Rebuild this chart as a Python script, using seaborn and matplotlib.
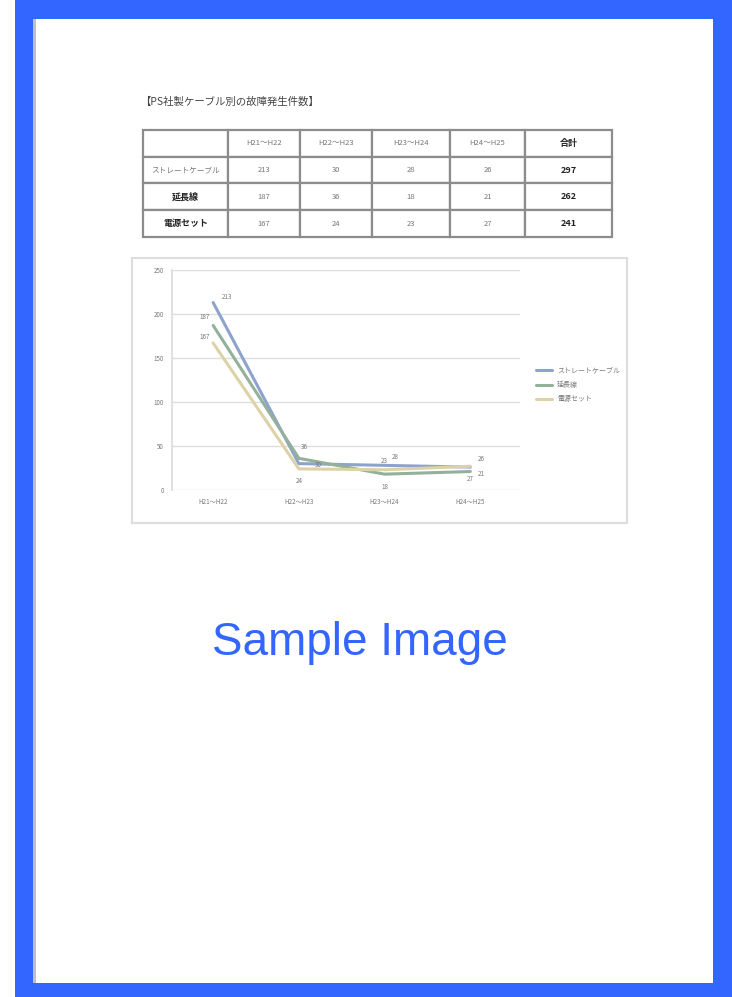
import numpy as np
import pandas as pd
import matplotlib
matplotlib.use('Agg')
import matplotlib.pyplot as plt
import seaborn as sns
from matplotlib.patches import Rectangle

# --- data (read off a very blurry scan, so partly guessed) ---
periods = ['H21～H22', 'H22～H23', 'H23～H24', 'H24～H25']
series_names = ['ストレートケーブル', '延長線', '電源セット']
straight = [213, 30, 28, 26]
extension = [187, 36, 18, 21]
power_set = [167, 24, 23, 27]
title_text = '【PS社製ケーブル別の故障発生件数】'
total_label = '合計'
y_ticks = [0, 50, 100, 150, 200, 250]
line_colors = ['#8ea3cb', '#93b09a', '#dcd2a8']

sns.set_theme(style='white')
plt.rcParams['font.family'] = ['Noto Sans CJK JP', 'DejaVu Sans']

W, H = 732, 997
fig = plt.figure(figsize=(W / 100, H / 100), dpi=100)
fig.patch.set_facecolor('white')


def px_axes(x0, y0, x1, y1):
    # axes placed with pixel corners (top-left origin)
    return fig.add_axes([x0 / W, 1 - y1 / H, (x1 - x0) / W, (y1 - y0) / H])


# --- blue frame ---
fig.patches.append(Rectangle((15 / W, 0), (732 - 15) / W, 1, transform=fig.transFigure,
                             facecolor='#3366ff', edgecolor='none', zorder=-3))
fig.patches.append(Rectangle((33 / W, 1 - 983 / H), (713 - 33) / W, (983 - 19) / H,
                             transform=fig.transFigure, facecolor='white',
                             edgecolor='none', zorder=-2))
fig.patches.append(Rectangle((33 / W, 1 - 983 / H), 3 / W, (983 - 19) / H,
                             transform=fig.transFigure, facecolor='#b9c2cf',
                             edgecolor='none', zorder=-1))

# --- title above the table ---
fig.text(140 / W, 1 - 102 / H, title_text, fontsize=7.5, color='#444444',
         ha='left', va='center')

# --- table ---
ax_t = px_axes(143, 130, 612, 237)
ax_t.axis('off')
rows = [straight, extension, power_set]
cell_text = [[''] + periods + [total_label]]
for name, vals in zip(series_names, rows):
    cell_text.append([name] + [str(v) for v in vals] + [str(sum(vals))])
col_w = [85, 72, 72, 78, 75, 87]
tbl = ax_t.table(cellText=cell_text, colWidths=[c / sum(col_w) for c in col_w],
                 cellLoc='center', bbox=[0, 0, 1, 1])
tbl.auto_set_font_size(False)
tbl.set_fontsize(5.5)
for (r, c), cell in tbl.get_celld().items():
    cell.set_edgecolor('#8c8c8c')
    cell.set_linewidth(1.6)
    txt = cell.get_text()
    txt.set_color('#777777')
    if c == 5 or (c == 0 and r in (2, 3)):
        txt.set_fontweight('bold')
        txt.set_color('#222222')
        txt.set_fontsize(6.5)

# --- chart frame ---
ax_box = px_axes(132, 258, 627, 523)
ax_box.set_xticks([])
ax_box.set_yticks([])
for sp in ax_box.spines.values():
    sp.set_color('#dddddd')
    sp.set_linewidth(1.5)
ax_box.set_zorder(0)

# --- line chart ---
ax = px_axes(172, 270, 520, 490)
ax.set_zorder(1)
ax.patch.set_alpha(0)
df = pd.DataFrame({
    'idx': list(range(len(periods))) * 3,
    'value': straight + extension + power_set,
    'series': [s for s in series_names for _ in periods],
})
sns.lineplot(data=df, x='idx', y='value', hue='series', hue_order=series_names,
             palette=line_colors, linewidth=2.2, ax=ax, legend=True)
ax.set_ylim(0, 250)
ax.set_xlim(-0.48, 3.58)
ax.set_yticks(y_ticks)
ax.set_yticklabels([str(t) for t in y_ticks], fontsize=4.5, color='#777777')
ax.set_xticks(range(len(periods)))
ax.set_xticklabels(periods, fontsize=4.5, color='#777777')
ax.tick_params(axis='both', length=0, pad=6)
ax.set_xlabel('')
ax.set_ylabel('')
ax.grid(axis='y', color='#dedede', linewidth=1)
for side in ['top', 'right', 'bottom']:
    ax.spines[side].set_visible(False)
ax.spines['left'].set_color('#dddddd')

# point labels
offsets = [[(10, 4), (14, -1), (8, 6), (8, 6)],
           [(-6, 6), (4, 8), (0, -9), (8, -2)],
           [(-6, 4), (0, -9), (0, 6), (0, -9)]]
for vals, offs in zip(rows, offsets):
    for i, v in enumerate(vals):
        ax.annotate(str(v), (i, v), xytext=offs[i], textcoords='offset points',
                    fontsize=4.5, color='#777777', ha='center', va='center')

leg = ax.legend(loc='center left', bbox_to_anchor=(530 / W, 1 - 385 / H),
                bbox_transform=fig.transFigure, frameon=False, fontsize=5,
                handlelength=2.2, labelspacing=0.9, title=None)
for t in leg.get_texts():
    t.set_color('#777777')

# --- watermark ---
fig.text(360 / W, 1 - 643 / H, 'Sample Image', fontsize=33, color='#3366ff',
         family='Liberation Sans', ha='center', va='center')

fig.savefig('out.png', dpi=100)
